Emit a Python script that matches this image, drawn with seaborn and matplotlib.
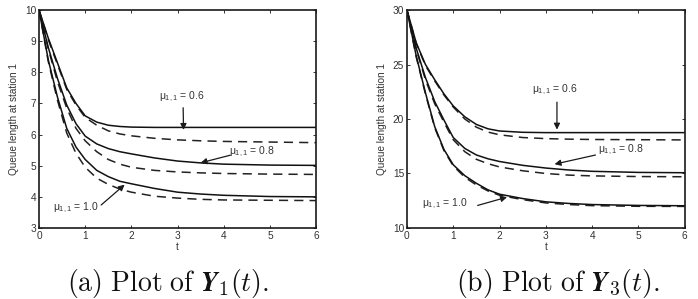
import numpy as np
import pandas as pd
import matplotlib
matplotlib.use("Agg")
import matplotlib.pyplot as plt
import seaborn as sns

# time grid
t = [0, 0.2, 0.4, 0.6, 0.8, 1.0, 1.25, 1.5, 1.75, 2.0, 2.5, 3.0, 3.5, 4.0, 5.0, 6.0]

# (a) Y1(t): solid / dashed for each mu
y1_06 = [10, 9.1, 8.3, 7.5, 7.0, 6.6, 6.4, 6.3, 6.26, 6.24, 6.23, 6.23, 6.23, 6.23, 6.23, 6.23]
y1_06d = [10, 9.05, 8.25, 7.45, 6.95, 6.55, 6.3, 6.12, 6.02, 5.96, 5.88, 5.83, 5.8, 5.78, 5.76, 5.74]
y1_08 = [10, 8.8, 7.8, 6.95, 6.35, 5.95, 5.7, 5.55, 5.45, 5.38, 5.25, 5.15, 5.09, 5.05, 5.02, 5.01]
y1_08d = [10, 8.75, 7.7, 6.85, 6.2, 5.8, 5.45, 5.2, 5.05, 4.95, 4.85, 4.8, 4.77, 4.75, 4.73, 4.72]
y1_10 = [10, 8.4, 7.2, 6.2, 5.6, 5.2, 4.85, 4.65, 4.5, 4.42, 4.27, 4.15, 4.09, 4.05, 4.01, 4.0]
y1_10d = [10, 8.35, 7.1, 6.05, 5.4, 4.95, 4.6, 4.4, 4.25, 4.15, 4.02, 3.96, 3.92, 3.9, 3.89, 3.88]

# (b) Y3(t)
y3_06 = [30, 27.0, 25.0, 23.6, 22.3, 21.2, 20.2, 19.5, 19.1, 18.9, 18.78, 18.75, 18.75, 18.75, 18.75, 18.75]
y3_06d = [30, 26.95, 24.9, 23.5, 22.2, 21.1, 20.0, 19.25, 18.8, 18.55, 18.3, 18.2, 18.15, 18.12, 18.1, 18.08]
y3_08 = [30, 26.5, 23.8, 21.6, 19.9, 18.3, 17.3, 16.7, 16.35, 16.1, 15.75, 15.5, 15.32, 15.2, 15.1, 15.07]
y3_08d = [30, 26.4, 23.6, 21.4, 19.7, 18.1, 17.0, 16.3, 15.9, 15.6, 15.25, 15.0, 14.85, 14.78, 14.72, 14.7]
y3_10 = [30, 25.8, 22.4, 19.3, 17.2, 15.8, 14.8, 14.1, 13.5, 13.1, 12.7, 12.4, 12.25, 12.15, 12.07, 12.04]
y3_10d = [30, 25.7, 22.3, 19.2, 17.1, 15.7, 14.65, 13.95, 13.4, 13.0, 12.6, 12.3, 12.15, 12.05, 11.99, 11.98]

labels = [r"$\mu_{1,1}$ = 0.6", r"$\mu_{1,1}$ = 0.8", r"$\mu_{1,1}$ = 1.0"]
captions = [r"$\mathrm{(a)\ Plot\ of\ }\mathbfit{Y}_{1}(t)\mathrm{.}$",
            r"$\mathrm{(b)\ Plot\ of\ }\mathbfit{Y}_{3}(t)\mathrm{.}$"]

sns.set_theme(style="ticks")
plt.rcParams["font.family"] = ["Liberation Sans", "DejaVu Sans"]
plt.rcParams["mathtext.fontset"] = "custom"
plt.rcParams["mathtext.rm"] = "Liberation Sans"
plt.rcParams["mathtext.it"] = "Liberation Sans"

fig = plt.figure(figsize=(6.98, 2.99), dpi=100)
ax1 = fig.add_axes([0.0559, 0.2375, 0.397, 0.729])
ax2 = fig.add_axes([0.583, 0.2375, 0.398, 0.729])

def draw(ax, solid, dashed):
    for s, d in zip(solid, dashed):
        sns.lineplot(x=t, y=d, ax=ax, color="#222222", lw=1.1,
                     linestyle=(0, (6, 4)))
        sns.lineplot(x=t, y=s, ax=ax, color="#111111", lw=1.1)

draw(ax1, [y1_06, y1_08, y1_10], [y1_06d, y1_08d, y1_10d])
draw(ax2, [y3_06, y3_08, y3_10], [y3_06d, y3_08d, y3_10d])

ax1.set_xlim(0, 6)
ax1.set_ylim(3, 10)
ax2.set_xlim(0, 6)
ax2.set_ylim(10, 30)
ax2.set_yticks([10, 15, 20, 25, 30])

for ax in (ax1, ax2):
    ax.set_xlabel("t", fontsize=7, labelpad=1, color="#333333")
    ax.set_ylabel("Queue length at station 1", fontsize=7.2, labelpad=4, color="#333333")
    ax.tick_params(direction="in", length=2.5, width=0.7, labelsize=7.3,
                   top=True, right=True, pad=2, colors="#333333")
    for sp in ax.spines.values():
        sp.set_linewidth(1.2)
        sp.set_color("k")

arrow = dict(arrowstyle="-|>", color="k", lw=0.9, mutation_scale=9)
ann = dict(fontsize=7.5, color="#333333", ha="left", va="center")

# annotations (a)
ax1.annotate(labels[0], xy=(3.13, 6.06), xytext=(2.6, 7.2), **ann)
ax1.annotate("", xy=(3.13, 6.06), xytext=(3.12, 6.95), arrowprops=arrow)
ax1.annotate(labels[1], xy=(3.44, 5.07), xytext=(4.12, 5.45), **ann)
ax1.annotate("", xy=(3.44, 5.07), xytext=(4.2, 5.36), arrowprops=arrow)
ax1.annotate(labels[2], xy=(1.9, 4.45), xytext=(0.3, 3.65), **ann)
ax1.annotate("", xy=(1.9, 4.45), xytext=(1.3, 3.68), arrowprops=arrow)

# annotations (b)
ax2.annotate(labels[0], xy=(3.24, 18.77), xytext=(2.7, 22.63), **ann)
ax2.annotate("", xy=(3.24, 18.77), xytext=(3.24, 21.8), arrowprops=arrow)
ax2.annotate(labels[1], xy=(3.13, 15.8), xytext=(4.12, 17.2), **ann)
ax2.annotate("", xy=(3.13, 15.8), xytext=(4.13, 16.75), arrowprops=arrow)
ax2.annotate(labels[2], xy=(2.22, 12.9), xytext=(0.33, 12.25), **ann)
ax2.annotate("", xy=(2.22, 12.9), xytext=(1.47, 12.0), arrowprops=arrow)

cap = dict(fontsize=20, ha="center", va="center", math_fontfamily="cm", color="#111111")
fig.text(168 / 698, 1 - 283 / 299, captions[0], **cap)
fig.text(558 / 698, 1 - 283 / 299, captions[1], **cap)

fig.savefig("out.png", dpi=100)
